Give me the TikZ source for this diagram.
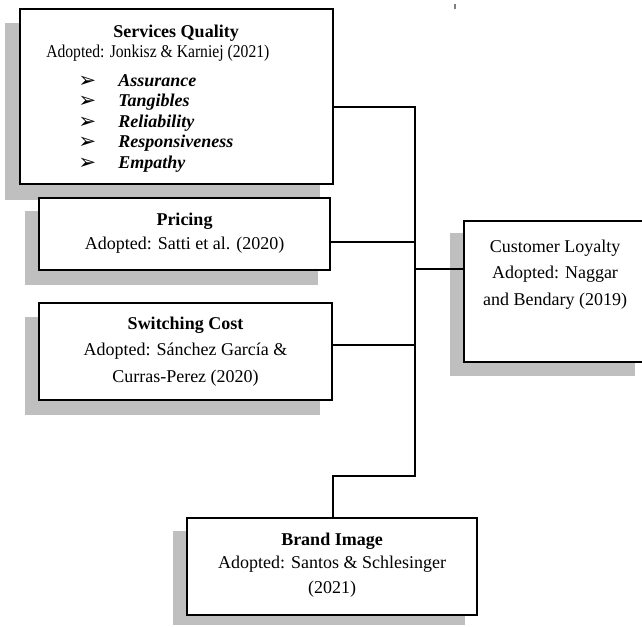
\documentclass[tikz,border=0pt]{standalone}
\usepackage{fontspec}
\setmainfont{Liberation Serif}
\newfontfamily\dvfont{DejaVu Sans}
\usetikzlibrary{fit}
\definecolor{shadowgray}{RGB}{191,191,191}
\tikzset{
  shadowfill/.style={fill=shadowgray},
  boxst/.style={draw=black, line width=1.5pt, fill=white, inner sep=0pt, rectangle},
  lbl/.style={font=\fontsize{13.5}{16}\selectfont, anchor=base, inner sep=0pt},
  ttl/.style={font=\fontsize{13.5}{16}\selectfont\bfseries, anchor=base, inner sep=0pt},
  itm/.style={font=\fontsize{13.5}{16}\selectfont\bfseries\itshape, anchor=base west, inner sep=0pt},
  bul/.style={font=\dvfont\fontsize{16}{18}\selectfont, anchor=base west, inner sep=0pt},
  conn/.style={draw=black, line width=1.2pt},
}
\begin{document}
\begin{tikzpicture}[x=0.75pt, y=-0.75pt]
\useasboundingbox (0,0) rectangle (642,626);
% shadows
\fill[shadowfill] (5,23) rectangle (320,200);
\fill[shadowfill] (25,211) rectangle (318,285);
\fill[shadowfill] (25,317) rectangle (320,415);
\fill[shadowfill] (450,233) rectangle (635,376);
\fill[shadowfill] (173,531) rectangle (465,625);
% stray tick
\draw[gray, line width=1.5pt] (454.5,4) -- (454.5,9);
% boxes
\node[boxst, fit={(20,9) (333,184)}] (sq) {};
\node[boxst, fit={(39,198) (330,270)}] (pr) {};
\node[boxst, fit={(39,303) (332,400)}] (sw) {};
\node[boxst, fit={(464,221) (646,362)}] (cl) {};
\node[boxst, fit={(187,518) (477,615)}] (br) {};
% connectors
\coordinate (ttop) at (415,107);
\coordinate (tbot) at (415,476);
\coordinate (bend) at (333,476);
\coordinate (jp) at (415,242);
\coordinate (js) at (415,345);
\coordinate (jc) at (415,269);
\draw[conn] (sq.east |- ttop) -- (ttop) -- (tbot) -- (bend) -- (bend |- br.north);
\draw[conn] (pr.east |- jp) -- (jp);
\draw[conn] (sw.east |- js) -- (js);
\draw[conn] (jc) -- (cl.west |- jc);
% Services Quality text
\node[ttl] (sqt) at (176,37) {Services Quality};
\node[lbl, anchor=base west] (sqa) at (46,57) {\scalebox{0.87}[1]{Adopted: Jonkisz \& Karniej (2021)}};
\node[bul] (b1) at (78,87) {➢};
\node[bul] (b2) at (78,107.5) {➢};
\node[bul] (b3) at (78,128) {➢};
\node[bul] (b4) at (78,148.5) {➢};
\node[bul] (b5) at (78,169) {➢};
\node[itm] (i1) at (118,86) {Assurance};
\node[itm] (i2) at (118,106.5) {Tangibles};
\node[itm] (i3) at (118,127) {Reliability};
\node[itm] (i4) at (118,147.5) {Responsiveness};
\node[itm] (i5) at (118,168) {Empathy};
% Pricing
\node[ttl] (prt) at (184.5,225) {Pricing};
\node[lbl] (pra) at (184.5,249) {Adopted: Satti et al. (2020)};
% Switching Cost
\node[ttl] (swt) at (185.5,329) {Switching Cost};
\node[lbl] (swa) at (185.5,355) {Adopted: Sánchez García \&};
\node[lbl] (swb) at (185.5,382) {Curras-Perez (2020)};
% Customer Loyalty
\node[lbl] (clt) at (555,252) {Customer Loyalty};
\node[lbl] (cla) at (555,278) {Adopted: Naggar};
\node[lbl] (clb) at (555,305) {and Bendary (2019)};
% Brand Image
\node[ttl] (brt) at (332,545) {Brand Image};
\node[lbl] (bra) at (332,568) {Adopted: Santos \& Schlesinger};
\node[lbl] (brb) at (332,593) {(2021)};
\end{tikzpicture}
\end{document}
